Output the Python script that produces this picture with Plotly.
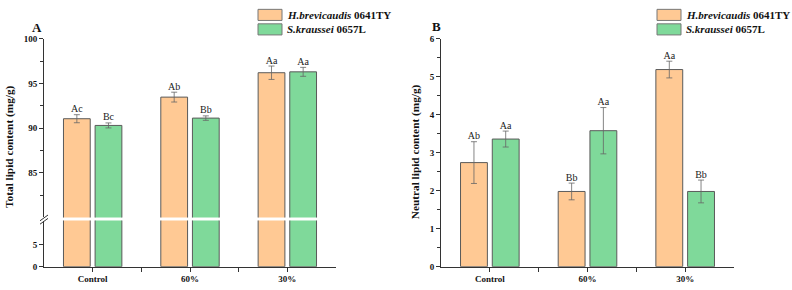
import plotly.graph_objects as go

categories = ["Control", "60%", "30%"]
series_names = ["<i>H.brevicaudis</i> 0641TY", "<i>S.kraussei</i> 0657L"]

total_hb = [91.05, 93.47, 96.2]
total_hb_err = [0.45, 0.55, 0.75]
total_sk = [90.3, 91.12, 96.3]
total_sk_err = [0.28, 0.25, 0.5]
total_hb_lbl = ["Ac", "Ab", "Aa"]
total_sk_lbl = ["Bc", "Bb", "Aa"]

neutral_hb = [2.74, 1.98, 5.19]
neutral_hb_err = [0.55, 0.22, 0.22]
neutral_sk = [3.36, 3.58, 1.98]
neutral_sk_err = [0.21, 0.61, 0.3]
neutral_hb_lbl = ["Ab", "Bb", "Aa"]
neutral_sk_lbl = ["Aa", "Aa", "Bb"]

ORANGE = "#FFC994"
GREEN = "#7FD99A"
EDGE = "#5a5a5a"
FONT = "Liberation Serif, Times New Roman, serif"
W, H = 792, 290

xpos = list(range(len(categories)))
fig = go.Figure()

def add_bars(vals, errs, color, offset, xa, ya, name, show):
    fig.add_trace(go.Bar(
        x=xpos, y=vals, width=0.275, offset=offset,
        marker=dict(color=color, line=dict(color=EDGE, width=1)),
        error_y=dict(type="data", array=errs, color="#666666", thickness=0.8, width=3),
        name=name, showlegend=show, xaxis=xa, yaxis=ya))

def add_labels(vals, errs, labels, dx, xa, ya):
    fig.add_trace(go.Scatter(
        x=[p + dx for p in xpos], y=[v + e for v, e in zip(vals, errs)],
        mode="text", text=labels, textposition="top center",
        textfont=dict(family=FONT, size=10, color="#222"),
        showlegend=False, hoverinfo="skip", xaxis=xa, yaxis=ya))

# Panel A: upper (y2) and lower (y) segments
for ya in ["y", "y2"]:
    add_bars(total_hb, total_hb_err, ORANGE, -0.30, "x", ya, series_names[0], False)
    add_bars(total_sk, total_sk_err, GREEN, 0.025, "x", ya, series_names[1], False)
add_labels(total_hb, total_hb_err, total_hb_lbl, -0.1625, "x", "y2")
add_labels(total_sk, total_sk_err, total_sk_lbl, 0.1625, "x", "y2")

# Panel B
add_bars(neutral_hb, neutral_hb_err, ORANGE, -0.30, "x2", "y3", series_names[0], False)
add_bars(neutral_sk, neutral_sk_err, GREEN, 0.025, "x2", "y3", series_names[1], False)
add_labels(neutral_hb, neutral_hb_err, neutral_hb_lbl, -0.1625, "x2", "y3")
add_labels(neutral_sk, neutral_sk_err, neutral_sk_lbl, 0.1625, "x2", "y3")

tickfont = dict(family=FONT, size=9, color="#111")
axis_common = dict(showline=True, linecolor="#333", linewidth=1, ticks="outside",
                   ticklen=4, tickcolor="#333", showgrid=False, zeroline=False,
                   tickfont=tickfont)

xdomA = [44 / W, 336 / W]
xdomB = [441 / W, 734 / W]
yb = (H - 271) / H
ytop = (H - 35) / H
ybrk_lo = (H - 223.3) / H
ybrk_hi = (H - 220) / H

xcommon = dict(axis_common, range=[-0.5, 2.5], tickvals=xpos, ticktext=[f"<b>{c}</b>" for c in categories],
               minor=dict(tickvals=[0.5, 1.5], ticks="outside", ticklen=4, tickcolor="#333"))

fig.update_layout(
    width=W, height=H, margin=dict(l=0, r=0, t=0, b=0),
    paper_bgcolor="white", plot_bgcolor="white", showlegend=False,
    font=dict(family=FONT),
    xaxis=dict(xcommon, domain=xdomA, anchor="y"),
    yaxis=dict(axis_common, domain=[yb, ybrk_lo], range=[0, 10.4], tickvals=[0, 5],
               ticktext=["<b>0</b>", "<b>5</b>"], anchor="x"),
    yaxis2=dict(axis_common, domain=[ybrk_hi, ytop], range=[80, 100],
                tickvals=[85, 90, 95, 100], ticktext=["<b>85</b>", "<b>90</b>", "<b>95</b>", "<b>100</b>"],
                minor=dict(tickvals=[82.5, 87.5, 92.5, 97.5], ticks="outside", ticklen=3, tickcolor="#333"),
                anchor="x"),
    xaxis2=dict(xcommon, domain=xdomB, anchor="y3"),
    yaxis3=dict(axis_common, domain=[yb, ytop], range=[0, 6], tickvals=[0, 1, 2, 3, 4, 5, 6],
                ticktext=[f"<b>{v}</b>" for v in range(7)],
                minor=dict(tickvals=[0.5 + i for i in range(6)], ticks="outside", ticklen=3, tickcolor="#333"),
                anchor="x2"),
)

# break marks on panel A y-axis
x0 = 44 / W
for dy in [-2.5, 1.0]:
    fig.add_shape(type="line", xref="paper", yref="paper",
                  x0=x0 - 4 / W, x1=x0 + 4 / W,
                  y0=(H - 221.5 + dy - 3) / H, y1=(H - 221.5 + dy + 3) / H,
                  line=dict(color="#333", width=1))

def note(text, x, y, size, **kw):
    fig.add_annotation(text=text, xref="paper", yref="paper", x=x / W, y=(H - y) / H,
                       showarrow=False, yanchor="middle", font=dict(family=FONT, size=size, color="#111"), **kw)

# y-axis titles
note("<b>Total lipid content (mg/g)</b>", 10, 147, 11.3, textangle=-90, xanchor="center")
note("<b>Neutral lipid content (mg/g)</b>", 415, 152.5, 11.3, textangle=-90, xanchor="center")

# panel letters
note("<b>A</b>", 37, 23, 13, xanchor="center")
note("<b>B</b>", 436, 22, 13, xanchor="center")

# legends (drawn as swatches + text per panel)
for lx in [258, 657]:
    for i, (nm, col) in enumerate(zip(series_names, [ORANGE, GREEN])):
        ytop_px = 4.5 + i * 15
        fig.add_shape(type="rect", xref="paper", yref="paper",
                      x0=lx / W, x1=(lx + 24) / W,
                      y0=(H - ytop_px) / H, y1=(H - ytop_px - 11.5) / H,
                      fillcolor=col, line=dict(color="#777", width=1))
        note(f"<b>{nm}</b>", lx + 27, ytop_px + 5.75, 11, xanchor="left")

fig.write_html("out.html")
